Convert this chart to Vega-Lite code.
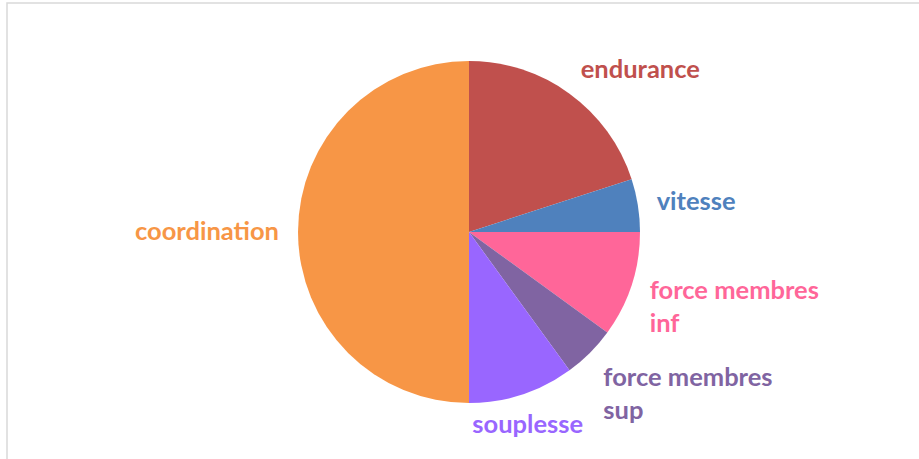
{
  "$schema": "https://vega.github.io/schema/vega-lite/v6.json",
  "width": 924,
  "height": 458,
  "autosize": {"type": "none"},
  "padding": {"left": 7, "top": 3, "right": 0, "bottom": 0},
  "background": "white",
  "view": {"stroke": "#D9D9D9", "strokeWidth": 1.5, "fill": "white"},
  "data": {
    "values": [
      {"category": "endurance", "label": "endurance", "value": 20},
      {"category": "vitesse", "label": "vitesse", "value": 5},
      {"category": "force membres inf", "label": "force membres\ninf", "value": 10},
      {"category": "force membres sup", "label": "force membres\nsup", "value": 5},
      {"category": "souplesse", "label": "souplesse", "value": 10},
      {"category": "coordination", "label": "coordination", "value": 50}
    ]
  },
  "transform": [{"window": [{"op": "row_number", "as": "idx"}]}],
  "encoding": {
    "theta": {"field": "value", "type": "quantitative", "stack": true},
    "order": {"field": "idx", "type": "quantitative"},
    "color": {
      "field": "category",
      "type": "nominal",
      "scale": {
        "domain": ["endurance", "vitesse", "force membres inf", "force membres sup", "souplesse", "coordination"],
        "range": ["#C0504D", "#4F81BD", "#FF6699", "#8064A2", "#9966FF", "#F79646"]
      },
      "legend": null
    }
  },
  "layer": [
    {"mark": {"type": "arc", "outerRadius": 171}},
    {
      "mark": {
        "type": "text",
        "radius": 190,
        "font": "Lato",
        "fontWeight": "bold",
        "fontSize": 25.5,
        "lineBreak": "\n",
        "lineHeight": 33,
        "align": {"expr": "sin(PI*(datum.value_start+datum.value_end)/100) > 0.35 ? 'left' : (sin(PI*(datum.value_start+datum.value_end)/100) < -0.35 ? 'right' : 'center')"},
        "baseline": {"expr": "cos(PI*(datum.value_start+datum.value_end)/100) > 0.5 ? 'alphabetic' : (cos(PI*(datum.value_start+datum.value_end)/100) < -0.5 ? 'top' : 'middle')"}
      },
      "encoding": {"text": {"field": "label", "type": "nominal"}}
    }
  ]
}
